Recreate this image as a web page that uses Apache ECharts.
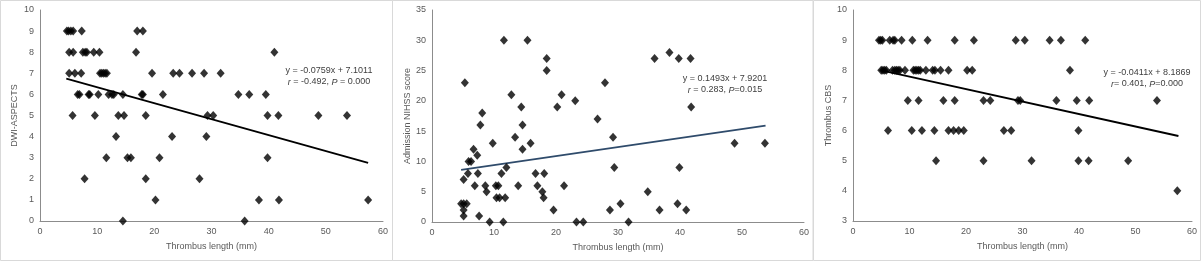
<!DOCTYPE html>
<html>
<head>
<meta charset="utf-8">
<title>Thrombus length correlations</title>
<script src="https://cdn.jsdelivr.net/npm/echarts@6/dist/echarts.min.js"></script>
<style>
  html, body { margin: 0; padding: 0; background: #fff; }
  #chart { width: 1201px; height: 262px; }
</style>
</head>
<body>
<div id="chart"></div>
<script>
// x = thrombus length (mm), y = score
const aspectsPoints = [
  [4.7, 9], [5.0, 9], [5.4, 9], [5.8, 9], [7.3, 9], [17.0, 9], [18.0, 9],
  [5.1, 8], [5.8, 8], [7.5, 8], [7.9, 8], [8.2, 8], [9.4, 8], [10.4, 8], [16.8, 8], [41.0, 8],
  [5.1, 7], [6.1, 7], [7.2, 7], [10.5, 7], [10.8, 7], [11.1, 7], [11.4, 7], [11.7, 7],
  [19.6, 7], [23.3, 7], [24.4, 7], [26.6, 7], [28.7, 7], [31.6, 7],
  [6.6, 6], [6.9, 6], [8.5, 6], [8.7, 6], [10.2, 6], [12.0, 6], [12.6, 6], [12.9, 6],
  [14.5, 6], [17.8, 6], [18.0, 6], [21.5, 6], [34.7, 6], [36.6, 6], [39.5, 6],
  [5.7, 5], [9.6, 5], [13.7, 5], [14.7, 5], [18.5, 5], [29.3, 5], [30.3, 5], [39.8, 5],
  [41.7, 5], [48.7, 5], [53.7, 5],
  [13.3, 4], [23.1, 4], [29.1, 4],
  [11.6, 3], [15.3, 3], [15.9, 3], [20.9, 3], [39.8, 3],
  [7.8, 2], [18.5, 2], [27.9, 2],
  [20.2, 1], [38.3, 1], [41.8, 1], [57.4, 1],
  [14.5, 0], [35.8, 0]
]
const aspectsTrend = [[4.6, 6.75], [57.4, 2.75]]

const nihssPoints = [
  [4.7, 3], [5.1, 3], [5.6, 3], [5.1, 2], [5.1, 1], [5.1, 7], [5.3, 23], [5.8, 8], [5.9, 10],
  [6.3, 10], [6.7, 12], [6.9, 6], [7.3, 11], [7.4, 8], [7.6, 1], [7.8, 16], [8.1, 18], [8.6, 6],
  [8.8, 5], [9.3, 0], [9.8, 13], [10.3, 6], [10.7, 6], [10.4, 4], [10.9, 4], [11.2, 8], [11.6, 30],
  [11.5, 0], [11.8, 4], [12.0, 9], [12.8, 21], [13.4, 14], [13.9, 6], [14.4, 19], [14.6, 12],
  [14.6, 16], [15.4, 30], [15.9, 13], [16.7, 8], [17.0, 6], [17.8, 5], [18.0, 4], [18.1, 8],
  [18.5, 27], [18.5, 25], [19.6, 2], [20.2, 19], [20.9, 21], [21.3, 6], [23.1, 20], [23.3, 0],
  [24.4, 0], [26.7, 17], [27.9, 23], [29.2, 14], [29.4, 9], [28.7, 2], [30.4, 3], [31.7, 0],
  [34.8, 5], [35.9, 27], [36.7, 2], [38.3, 28], [39.6, 3], [39.8, 27], [39.9, 9], [41.0, 2],
  [41.7, 27], [41.8, 19], [48.8, 13], [53.7, 13]
]
const nihssTrend = [[4.7, 8.6], [53.8, 15.9]]

const cbsPoints = [
  [4.6, 9], [4.9, 9], [5.2, 9], [6.5, 9], [7.1, 9], [7.4, 9], [8.6, 9], [10.5, 9], [13.2, 9],
  [18.0, 9], [21.4, 9], [28.8, 9], [30.4, 9], [34.8, 9], [36.8, 9], [41.1, 9],
  [5.0, 8], [5.3, 8], [5.6, 8], [5.9, 8], [7.0, 8], [7.4, 8], [7.7, 8], [8.0, 8], [8.3, 8],
  [9.2, 8], [10.7, 8], [11.0, 8], [11.3, 8], [11.6, 8], [11.9, 8], [12.9, 8], [14.1, 8],
  [14.5, 8], [15.5, 8], [16.9, 8], [20.2, 8], [21.1, 8], [38.4, 8],
  [9.7, 7], [11.6, 7], [16.0, 7], [18.0, 7], [23.1, 7], [24.3, 7], [29.2, 7], [29.6, 7],
  [36.0, 7], [39.6, 7], [41.8, 7], [53.8, 7],
  [6.2, 6], [10.4, 6], [12.2, 6], [14.4, 6], [16.9, 6], [17.8, 6], [18.7, 6], [19.6, 6],
  [26.7, 6], [28.0, 6], [39.9, 6],
  [14.7, 5], [23.1, 5], [31.6, 5], [39.9, 5], [41.7, 5], [48.7, 5],
  [57.4, 4]
]
const cbsTrend = [[5.0, 8.0], [57.6, 5.82]]

const yTitles = ['DWI-ASPECTS', 'Admission NIHSS score', 'Thrombus CBS']
const yRanges = [[0, 10, 1], [0, 35, 5], [3, 10, 1]]
const equations = [
  ['y = -0.0759x + 7.1011', '{i|r} = -0.492, {i|P} = 0.000'],
  ['y = 0.1493x + 7.9201', '{i|r} = 0.283, {i|P}=0.015'],
  ['y = -0.0411x + 8.1869', '{i|r}= 0.401, {i|P}=0.000']
]

const FONT = 'Arial, "Liberation Sans", sans-serif'
const TEXT_COLOR = '#595959'
const AXIS_COLOR = '#8c8c8c'
const LINE_COLORS = ['#000', '#2f4b6b', '#000']

const grids = [
  { left: 40, right: 818, top: 10, bottom: 41 },
  { left: 432, right: 397, top: 10, bottom: 40 },
  { left: 853, right: 9, top: 10, bottom: 41 }
]
const yNameGaps = [21, 19, 19]
const eqPos = [[329, 71], [725, 79], [1147, 73]]

const pointSets = [aspectsPoints, nihssPoints, cbsPoints]
const trends = [aspectsTrend, nihssTrend, cbsTrend]

const chart = echarts.init(document.getElementById('chart'), null, { renderer: 'canvas' })

const option = {
  animation: false,
  backgroundColor: '#fff',
  textStyle: { fontFamily: FONT },
  grid: grids,
  xAxis: grids.map((g, i) => ({
    type: 'value',
    gridIndex: i,
    min: 0,
    max: 60,
    interval: 10,
    name: 'Thrombus length (mm)',
    nameLocation: 'middle',
    nameGap: 21,
    nameTextStyle: { color: TEXT_COLOR, fontSize: 9, fontFamily: FONT },
    axisLine: { show: true, onZero: false, lineStyle: { color: AXIS_COLOR, width: 1 } },
    axisTick: { show: false },
    splitLine: { show: false },
    axisLabel: { color: TEXT_COLOR, fontSize: 9, margin: 6, fontFamily: FONT }
  })),
  yAxis: grids.map((g, i) => ({
    type: 'value',
    gridIndex: i,
    min: yRanges[i][0],
    max: yRanges[i][1],
    interval: yRanges[i][2],
    name: yTitles[i],
    nameLocation: 'middle',
    nameRotate: 90,
    nameGap: yNameGaps[i],
    nameTextStyle: { color: TEXT_COLOR, fontSize: 9, fontFamily: FONT },
    axisLine: { show: true, onZero: false, lineStyle: { color: AXIS_COLOR, width: 1 } },
    axisTick: { show: false },
    splitLine: { show: false },
    axisLabel: { color: TEXT_COLOR, fontSize: 9, margin: 6, fontFamily: FONT }
  })),
  series: [
    ...pointSets.map((pts, i) => ({
      type: 'scatter',
      xAxisIndex: i,
      yAxisIndex: i,
      data: pts,
      symbol: 'diamond',
      symbolSize: [8, 9],
      itemStyle: { color: '#000' },
      z: 3
    })),
    ...trends.map((t, i) => ({
      type: 'line',
      xAxisIndex: i,
      yAxisIndex: i,
      data: t,
      symbol: 'none',
      lineStyle: { color: LINE_COLORS[i], width: 1.8 },
      z: 2
    }))
  ],
  graphic: [
    // panel frames
    { type: 'rect', shape: { x: 0.5, y: 0.5, width: 392, height: 260 }, style: { fill: 'none', stroke: '#d9d9d9', lineWidth: 1 }, silent: true },
    { type: 'rect', shape: { x: 392.5, y: 0.5, width: 420.5, height: 260 }, style: { fill: 'none', stroke: '#d9d9d9', lineWidth: 1 }, silent: true },
    { type: 'rect', shape: { x: 813.5, y: 0.5, width: 387, height: 260 }, style: { fill: 'none', stroke: '#d9d9d9', lineWidth: 1 }, silent: true },
    ...equations.flatMap((eq, i) => [
      {
        type: 'text',
        x: eqPos[i][0],
        y: eqPos[i][1],
        style: { text: eq[0], fill: '#404040', font: '9px ' + FONT, align: 'center', verticalAlign: 'middle' },
        silent: true
      },
      {
        type: 'text',
        x: eqPos[i][0],
        y: eqPos[i][1] + 11,
        style: {
          text: eq[1],
          fill: '#404040',
          fontSize: 9,
          fontFamily: FONT,
          align: 'center',
          verticalAlign: 'middle',
          rich: { i: { fontStyle: 'italic', fontSize: 9, fontFamily: FONT, fill: '#404040' } }
        },
        silent: true
      }
    ])
  ]
}

chart.setOption(option)
</script>
</body>
</html>
